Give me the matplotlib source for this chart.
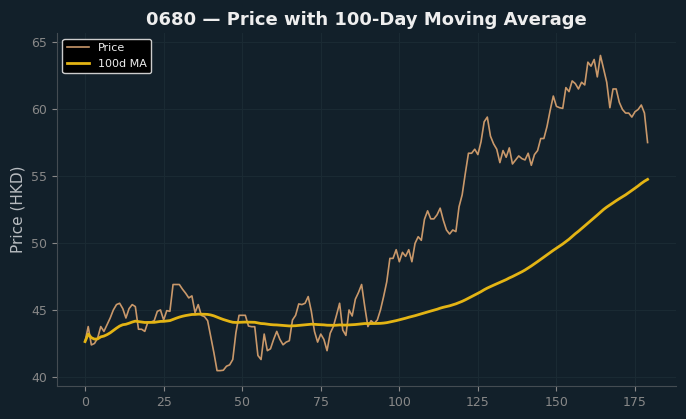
import numpy as np
import pandas as pd
import matplotlib
matplotlib.use('Agg')
import matplotlib.pyplot as plt

# daily closing prices (180 trading days)
price = [
    42.64, 43.76, 42.39, 42.50, 42.90, 43.76, 43.40, 43.90, 44.40, 45.00,
    45.40, 45.50, 45.10, 44.40, 45.10, 45.40, 45.25, 43.56, 43.56, 43.40,
    44.10, 44.10, 44.20, 44.90, 45.00, 44.25, 44.95, 44.90, 46.90, 46.90,
    46.90, 46.55, 46.25, 45.90, 46.05, 44.80, 45.40, 44.60, 44.50, 44.20,
    43.00, 41.80, 40.47, 40.47, 40.50, 40.80, 40.90, 41.30, 43.30, 44.60,
    44.60, 44.60, 43.80, 43.75, 43.75, 41.60, 41.30, 43.20, 41.96, 42.10,
    42.80, 43.40, 42.80, 42.40, 42.60, 42.70, 44.25, 44.60, 45.45, 45.40,
    45.50, 46.00, 44.90, 43.40, 42.60, 43.20, 42.80, 41.96, 43.26, 43.76,
    44.60, 45.50, 43.50, 43.10, 45.00, 44.55, 45.80, 46.30, 46.90, 45.25,
    43.76, 44.20, 44.00, 44.25, 45.00, 46.00, 47.10, 48.85, 48.85, 49.50,
    48.60, 49.30, 49.00, 49.50, 48.60, 49.97, 50.47, 50.20, 51.77, 52.40,
    51.80, 51.80, 52.10, 52.60, 51.70, 50.97, 50.67, 50.97, 50.85, 52.70,
    53.60, 55.20, 56.70, 56.70, 57.00, 56.60, 57.56, 59.05, 59.40, 57.98,
    57.40, 57.00, 56.00, 56.90, 56.40, 57.10, 55.90, 56.20, 56.50, 56.30,
    56.20, 56.70, 55.80, 56.60, 56.90, 57.80, 57.80, 58.70, 59.90, 60.97,
    60.20, 60.10, 60.05, 61.60, 61.30, 62.10, 61.90, 61.50, 62.00, 61.80,
    63.50, 63.20, 63.70, 62.40, 64.00, 63.00, 62.00, 60.10, 61.50, 61.50,
    60.50, 59.97, 59.70, 59.70, 59.40, 59.80, 59.97, 60.30, 59.70, 57.50,
]
days = np.arange(len(price))

df = pd.DataFrame({'day': days, 'price': price})
df['ma100'] = df['price'].rolling(100, min_periods=1).mean()

bg = '#12202a'
fig, ax = plt.subplots(figsize=(6.86, 4.19), dpi=100)
fig.patch.set_facecolor(bg)
ax.set_facecolor(bg)
fig.subplots_adjust(left=0.083, right=0.985, top=0.921, bottom=0.079)

ax.plot(df['day'], df['price'], color='#c9986a', lw=1.2, label='Price')
ax.plot(df['day'], df['ma100'], color='#e3b414', lw=2, label='100d MA')

ax.set_title('0680 \u2014 Price with 100-Day Moving Average', color='#eeeeee',
             fontsize=13, fontweight='bold')
ax.set_ylabel('Price (HKD)', color='#b8bcc0', fontsize=11)
ax.set_xticks([0, 25, 50, 75, 100, 125, 150, 175])
ax.set_yticks([40, 45, 50, 55, 60, 65])
ax.set_ylim(39.33, 65.67)
ax.tick_params(colors='#888888', labelsize=9)
ax.grid(True, color='#1a2a33', lw=0.8)
ax.set_axisbelow(True)
for side in ['top', 'right']:
    ax.spines[side].set_visible(False)
for side in ['left', 'bottom']:
    ax.spines[side].set_color('#444c52')

leg = ax.legend(loc='upper left', fontsize=8, facecolor='black',
                edgecolor='#cccccc', framealpha=1)
for t in leg.get_texts():
    t.set_color('#eeeeee')

fig.savefig('out.png', dpi=100, facecolor=bg)
